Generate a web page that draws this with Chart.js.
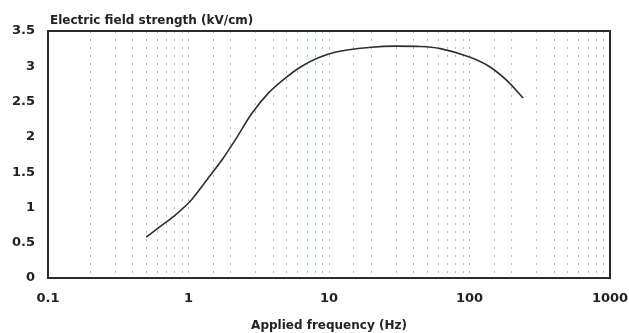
<!DOCTYPE html>
<html>
<head>
<meta charset="utf-8">
<script src="https://cdn.jsdelivr.net/npm/chart.js@4"></script>
<style>
html,body{margin:0;padding:0;background:#fff;}
#wrap{width:629px;height:333px;position:relative;}
</style>
</head>
<body>
<div id="wrap"><canvas id="c" width="629" height="333"></canvas></div>
<script>
const frequencies = [0.5, 0.63, 0.78, 1.02, 1.35, 1.77, 2.14, 2.82, 3.7, 4.86, 6.4, 8.4, 11, 20, 30, 45, 62, 100, 140, 184, 241];
const fieldStrength = [0.58, 0.73, 0.87, 1.08, 1.39, 1.70, 1.95, 2.33, 2.62, 2.83, 3.0, 3.12, 3.2, 3.27, 3.285, 3.28, 3.25, 3.13, 2.99, 2.80, 2.55];
const xTickLabels = [0.1, 1, 10, 100, 1000];
const yAxisTitle = 'Electric field strength (kV/cm)';
const xAxisTitle = 'Applied frequency (Hz)';

const FONT = "'DejaVu Sans', Verdana, sans-serif";
const TXT = '#222';

const framePlugin = {
  id: 'frame',
  afterDatasetsDraw(chart) {
    const {ctx, chartArea: a} = chart;
    ctx.save();
    ctx.strokeStyle = '#2b2b2b';
    ctx.lineWidth = 2;
    ctx.strokeRect(a.left, a.top, a.right - a.left, a.bottom - a.top);
    ctx.fillStyle = TXT;
    ctx.font = "bold 12px " + FONT;
    ctx.textBaseline = 'alphabetic';
    ctx.textAlign = 'left';
    ctx.fillText(yAxisTitle, a.left + 2, a.top - 7);
    ctx.restore();
  }
};

new Chart(document.getElementById('c'), {
  type: 'line',
  data: {
    datasets: [{
      data: frequencies.map((f, i) => ({x: f, y: fieldStrength[i]})),
      borderColor: '#2e2e2e',
      borderWidth: 1.6,
      pointRadius: 0,
      fill: false,
      cubicInterpolationMode: 'monotone'
    }]
  },
  options: {
    responsive: false,
    animation: false,
    layout: {padding: {left: 0, right: 19, top: 31, bottom: 0}},
    plugins: {legend: {display: false}, tooltip: {enabled: false}},
    scales: {
      x: {
        type: 'logarithmic',
        min: 0.1,
        max: 1000,
        afterFit(s) { s.height = 55; s.paddingLeft = 0; s.paddingRight = 0; },
        grid: {
          display: true,
          drawTicks: false,
          color: 'rgba(90,155,210,0.65)',
          lineWidth: 1
        },
        border: {display: false, dash: [2, 6]},
        ticks: {
          autoSkip: false,
          maxRotation: 0,
          padding: 13,
          color: TXT,
          font: {family: FONT, size: 13, weight: 'bold'},
          callback(v) {
            const r = xTickLabels.find(t => Math.abs(t - v) / t < 1e-6);
            return r !== undefined ? String(r) : '';
          }
        },
        title: {
          display: true,
          text: xAxisTitle,
          color: TXT,
          font: {family: FONT, size: 12, weight: 'bold'},
          padding: {top: 9, bottom: 0}
        }
      },
      y: {
        min: 0,
        max: 3.5,
        afterFit(s) { s.width = 48; s.paddingTop = 0; s.paddingBottom = 0; },
        grid: {display: false, drawTicks: false},
        border: {display: false},
        ticks: {
          stepSize: 0.5,
          padding: 13,
          color: TXT,
          font: {family: FONT, size: 13, weight: 'bold'},
          callback(v) { return String(Math.round(v * 10) / 10); }
        }
      }
    }
  },
  plugins: [framePlugin]
});
</script>
</body>
</html>
